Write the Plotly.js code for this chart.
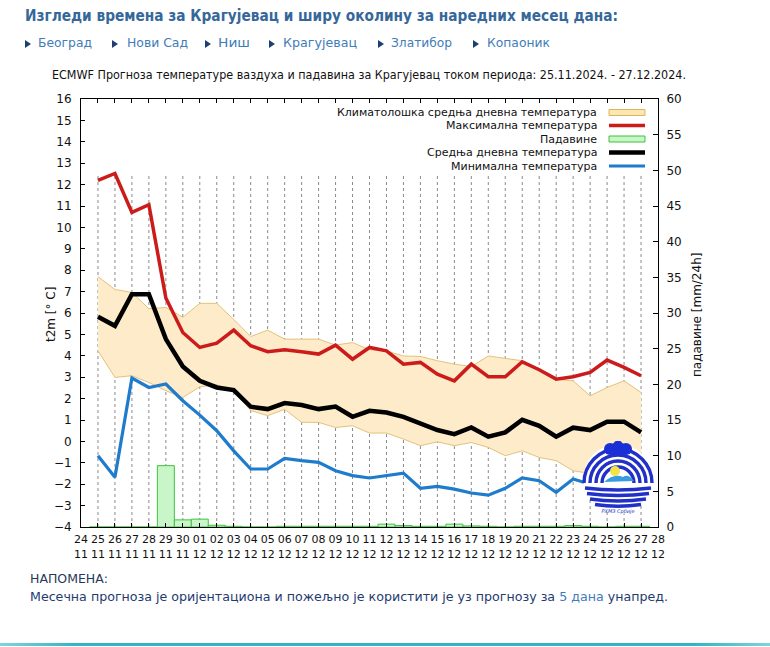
<!DOCTYPE html>
<html>
<head>
<meta charset="utf-8">
<script src="https://cdn.plot.ly/plotly-3.0.1.min.js"></script>
<style>
  html, body { margin:0; padding:0; background:#fff; }
  #wrap { position:relative; width:770px; height:647px; overflow:hidden; background:#fff; }
  #chart { position:absolute; left:0; top:0; width:770px; height:647px; }
  .t { position:absolute; white-space:nowrap; line-height:18px; transform-origin:left center; z-index:5; display:inline-block; }
  .tri { position:absolute; width:0; height:0; border-left:6px solid #1d3f73; border-top:4.5px solid transparent; border-bottom:4.5px solid transparent; z-index:5; }
  #logo { position:absolute; left:581px; top:441px; z-index:4; }
  #bline { position:absolute; left:0; top:643px; width:770px; height:3px; background:linear-gradient(to right,#7fd3dc,#33b3c3 10%,#33b3c3 90%,#7fd3dc); z-index:5; }
</style>
</head>
<body>
<div id="wrap">
  <div id="chart"></div>
  <div class="t" id="hdr" style="left:25px;top:7px;font:bold 15px 'DejaVu Sans';color:#36679a">Изгледи времена за Крагујевац и ширу околину за наредних месец дана:</div>

  <div class="tri" style="left:25px;top:39.5px"></div>
  <div class="t" id="l1" style="left:38px;top:35px;font:13px 'DejaVu Sans';color:#3f7cb9">Београд</div>
  <div class="tri" style="left:112px;top:39.5px"></div>
  <div class="t" id="l2" style="left:127px;top:35px;font:13px 'DejaVu Sans';color:#3f7cb9">Нови Сад</div>
  <div class="tri" style="left:205px;top:39.5px"></div>
  <div class="t" id="l3" style="left:218px;top:35px;font:13px 'DejaVu Sans';color:#3f7cb9">Ниш</div>
  <div class="tri" style="left:269px;top:39.5px"></div>
  <div class="t" id="l4" style="left:283px;top:35px;font:13px 'DejaVu Sans';color:#3f7cb9">Крагујевац</div>
  <div class="tri" style="left:378px;top:39.5px"></div>
  <div class="t" id="l5" style="left:391px;top:35px;font:13px 'DejaVu Sans';color:#3f7cb9">Златибор</div>
  <div class="tri" style="left:473px;top:39.5px"></div>
  <div class="t" id="l6" style="left:487px;top:35px;font:13px 'DejaVu Sans';color:#3f7cb9">Копаоник</div>

  <div class="t" id="ttl" style="left:52px;top:68px;font:12px 'DejaVu Sans';color:#111">ECMWF Прогноза температуре ваздуха и падавина за Крагујевац током периода: 25.11.2024. - 27.12.2024.</div>

  <div class="t" id="n1" style="left:30px;top:571px;font:13px 'DejaVu Sans';color:#26385a">НАПОМЕНА:</div>
  <div class="t" id="n2" style="left:30px;top:589px;font:13px 'DejaVu Sans';color:#1f3b70">Месечна прогноза је оријентациона и пожељно је користити је уз прогнозу за <span style="color:#3f7cb9">5 дана</span> унапред.</div>

  <div id="bline"></div>

  <svg id="logo" width="74" height="74" viewBox="0 0 74 74">
    <circle cx="37" cy="38" r="35" fill="#ffffff"/>
    <g fill="none" stroke="#2030c8" stroke-width="3.4">
      <path d="M3 42 A34 34 0 0 1 71 42"/>
      <path d="M9 42 A28 28 0 0 1 65 42"/>
      <path d="M15 42 A22 22 0 0 1 59 42"/>
      <path d="M21 42 A16 16 0 0 1 53 42"/>
      <path d="M4 47 Q37 51 70 47"/>
      <path d="M6 52.5 Q37 56.5 68 52.5"/>
      <path d="M9 58 Q37 62 65 58"/>
      <path d="M14 63.5 Q37 67 60 63.5"/>
    </g>
    <ellipse cx="37" cy="8" rx="13" ry="6" fill="#1b2fd6"/>
    <circle cx="29" cy="8" r="6" fill="#1b2fd6"/>
    <circle cx="45" cy="8" r="6" fill="#1b2fd6"/>
    <circle cx="37" cy="4.5" r="5" fill="#1b2fd6"/>
    <circle cx="34" cy="30" r="5" fill="#f3e24a"/>
    <path d="M23 41 Q33 32 42 36 Q47 32 53 40 Z" fill="#3b9be0"/>
    <text x="37" y="72" text-anchor="middle" font-size="5" font-style="italic" fill="#2233c4" font-family="DejaVu Sans">РХМЗ Србије</text>
  </svg>
</div>

<script>
// ---- data ----
const dates = ['2024-11-25','2024-11-26','2024-11-27','2024-11-28','2024-11-29','2024-11-30',
  '2024-12-01','2024-12-02','2024-12-03','2024-12-04','2024-12-05','2024-12-06','2024-12-07',
  '2024-12-08','2024-12-09','2024-12-10','2024-12-11','2024-12-12','2024-12-13','2024-12-14',
  '2024-12-15','2024-12-16','2024-12-17','2024-12-18','2024-12-19','2024-12-20','2024-12-21',
  '2024-12-22','2024-12-23','2024-12-24','2024-12-25','2024-12-26','2024-12-27'];

const tMax = [12.2, 12.52, 10.7, 11.06, 6.7, 5.09, 4.39, 4.59, 5.2, 4.47, 4.19, 4.28, 4.19,
  4.08, 4.5, 3.84, 4.39, 4.23, 3.61, 3.69, 3.14, 2.83, 3.61, 3.02, 3.02, 3.72, 3.35,
  2.91, 3.02, 3.22, 3.8, 3.46, 3.07];

const tMean = [5.82, 5.4, 6.88, 6.88, 4.78, 3.5, 2.83, 2.52, 2.4, 1.62, 1.51, 1.79, 1.7,
  1.51, 1.63, 1.15, 1.43, 1.35, 1.15, 0.84, 0.53, 0.34, 0.65, 0.22, 0.42, 1.01, 0.73,
  0.22, 0.64, 0.53, 0.92, 0.92, 0.42];

const tMin = [-0.67, -1.68, 2.96, 2.52, 2.68, 1.9, 1.23, 0.5, -0.44, -1.29, -1.29, -0.79, -0.9,
  -0.98, -1.37, -1.6, -1.71, -1.6, -1.48, -2.19, -2.1, -2.23, -2.41, -2.51, -2.19, -1.71, -1.84,
  -2.38, -1.76, -2.0, -1.8, -1.9, -2.0];

const climUpper = [7.7, 7.1, 6.96, 6.2, 6.26, 5.8, 6.45, 6.45, 5.7, 4.9, 5.2, 4.78, 4.78,
  4.78, 4.5, 4.62, 4.28, 4.23, 3.99, 3.97, 3.77, 3.61, 3.5, 3.99, 3.88, 3.77, 3.35,
  2.91, 2.83, 2.13, 2.52, 2.83, 2.29];

const climLower = [4.23, 2.99, 3.07, 2.75, 2.37, 2.05, 2.55, 2.65, 2.3, 1.45, 1.2, 1.5, 0.89,
  0.89, 0.65, 0.73, 0.39, 0.39, 0.11, -0.2, -0.02, -0.2, -0.05, -0.28, -0.67, -0.44, -0.75,
  -0.9, -1.37, -1.5, -1.55, -1.6, -1.65];

const precip = [0, 0, 0, 0, 8.6, 1.0, 1.1, 0.25, 0.1, 0, 0, 0.1, 0.1,
  0.1, 0.1, 0.1, 0.1, 0.4, 0.2, 0.1, 0.1, 0.4, 0.15, 0.1, 0, 0.1, 0.1,
  0.1, 0.2, 0.1, 0, 0.1, 0.1];

const tickDates = ['2024-11-24','2024-11-25','2024-11-26','2024-11-27','2024-11-28','2024-11-29','2024-11-30',
  '2024-12-01','2024-12-02','2024-12-03','2024-12-04','2024-12-05','2024-12-06','2024-12-07',
  '2024-12-08','2024-12-09','2024-12-10','2024-12-11','2024-12-12','2024-12-13','2024-12-14',
  '2024-12-15','2024-12-16','2024-12-17','2024-12-18','2024-12-19','2024-12-20','2024-12-21',
  '2024-12-22','2024-12-23','2024-12-24','2024-12-25','2024-12-26','2024-12-27','2024-12-28'];
const tickDays = ['24','25','26','27','28','29','30','01','02','03','04','05','06','07','08','09','10',
  '11','12','13','14','15','16','17','18','19','20','21','22','23','24','25','26','27','28'];
const tickMonths = ['11','11','11','11','11','11','11','12','12','12','12','12','12','12','12','12','12',
  '12','12','12','12','12','12','12','12','12','12','12','12','12','12','12','12','12','12'];

const legendNames = ['Климатолошка средња дневна температура','Максимална температура','Падавине',
  'Средња дневна температура','Минимална температура'];

// ---- layout geometry (pixels) ----
const PL = 81, PR = 658, PT = 99, PB = 527;
const px2x = p => (p - PL) / (PR - PL);
const px2y = p => (PB - p) / (PB - PT);

const ticktext = tickDays.map((d, i) => d + '<br>' + tickMonths[i]);
const FONT = 'DejaVu Sans, sans-serif';

const traces = [
  { x: dates, y: climLower, type: 'scatter', mode: 'lines', line: {color: '#e3c27c', width: 1}, showlegend: false, hoverinfo: 'skip' },
  { x: dates, y: climUpper, type: 'scatter', mode: 'lines', line: {color: '#e3c27c', width: 1}, fill: 'tonexty', fillcolor: '#fdebc9', showlegend: false, hoverinfo: 'skip' },
  { x: dates, y: tMax, type: 'scatter', mode: 'lines', line: {color: '#cc1b1b', width: 3.5}, showlegend: false },
  { x: dates, y: tMean, type: 'scatter', mode: 'lines', line: {color: '#000000', width: 4.5}, showlegend: false },
  { x: dates, y: tMin, type: 'scatter', mode: 'lines', line: {color: '#1f7bcc', width: 3.2}, showlegend: false },
  { x: dates, y: precip, type: 'bar', yaxis: 'y2', width: 86400000, marker: {color: '#c9f6c9', line: {color: '#3fc23f', width: 1}}, showlegend: false }
];

// custom legend (text left of symbol)
const rowsY = [112.5, 125.5, 139, 152.5, 166];
const annotations = legendNames.map((n, i) => ({
  text: n, xref: 'paper', yref: 'paper', x: px2x(599), y: px2y(rowsY[i]),
  xanchor: 'right', yanchor: 'middle', showarrow: false, font: {family: FONT, size: 11, color: '#111'}
}));
annotations.push({ text: 't2m [° C]', xref: 'paper', yref: 'paper', x: px2x(51), y: px2y(315), textangle: -90,
  xanchor: 'center', yanchor: 'middle', showarrow: false, font: {family: FONT, size: 12, color: '#111'} });
annotations.push({ text: 'падавине [mm/24h]', xref: 'paper', yref: 'paper', x: px2x(697), y: px2y(315), textangle: -90,
  xanchor: 'center', yanchor: 'middle', showarrow: false, font: {family: FONT, size: 12, color: '#111'} });

// dotted vertical grid lines (stop below the legend block)
const gridTop = 12.45;
const shapes = tickDates.slice(1, -1).map(d => ({
  type: 'line', xref: 'x', yref: 'y', x0: d, x1: d, y0: -4, y1: gridTop,
  line: {color: '#8a8a8a', width: 1, dash: 'dot'}, layer: 'below'
}));

const sx0 = px2x(609), sx1 = px2x(645);
shapes.push(
  { type: 'rect', xref: 'paper', yref: 'paper', x0: sx0, x1: sx1, y0: px2y(rowsY[0] + 3), y1: px2y(rowsY[0] - 3), fillcolor: '#fde6b6', line: {color: '#dfb55a', width: 1} },
  { type: 'line', xref: 'paper', yref: 'paper', x0: sx0, x1: sx1, y0: px2y(rowsY[1]), y1: px2y(rowsY[1]), line: {color: '#cc1b1b', width: 3.5} },
  { type: 'rect', xref: 'paper', yref: 'paper', x0: sx0, x1: sx1, y0: px2y(rowsY[2] + 3), y1: px2y(rowsY[2] - 3), fillcolor: '#c9f6c9', line: {color: '#3fc23f', width: 1} },
  { type: 'line', xref: 'paper', yref: 'paper', x0: sx0, x1: sx1, y0: px2y(rowsY[3]), y1: px2y(rowsY[3]), line: {color: '#000', width: 4.5} },
  { type: 'line', xref: 'paper', yref: 'paper', x0: sx0, x1: sx1, y0: px2y(rowsY[4]), y1: px2y(rowsY[4]), line: {color: '#1f7bcc', width: 3.2} }
);

const layout = {
  width: 770, height: 647,
  margin: {l: PL, r: 770 - PR, t: PT, b: 647 - PB, pad: 0},
  paper_bgcolor: 'rgba(0,0,0,0)', plot_bgcolor: '#ffffff',
  font: {family: FONT, size: 11, color: '#111'},
  showlegend: false,
  bargap: 0,
  xaxis: {
    type: 'date', range: ['2024-11-24', '2024-12-28'],
    tickmode: 'array', tickvals: tickDates, ticktext: ticktext,
    ticks: 'inside', ticklen: 4, tickcolor: '#000', tickangle: 0,
    showline: true, linecolor: '#000', linewidth: 1, mirror: 'ticks',
    showgrid: false, zeroline: false, tickfont: {family: FONT, size: 11, color: '#111'}, ticklabelstandoff: 2
  },
  yaxis: {
    range: [-4, 16], dtick: 1, tick0: 0,
    ticks: 'inside', ticklen: 4, tickcolor: '#000',
    showline: true, linecolor: '#000', linewidth: 1, mirror: true,
    showgrid: false, zeroline: false, tickfont: {family: FONT, size: 12, color: '#111'}, ticklabelstandoff: 6
  },
  yaxis2: {
    overlaying: 'y', side: 'right', range: [0, 60], dtick: 5, tick0: 0,
    ticks: 'inside', ticklen: 5, tickcolor: '#000',
    showline: true, linecolor: '#000', linewidth: 1,
    showgrid: false, zeroline: false, tickfont: {family: FONT, size: 12, color: '#111'}, ticklabelstandoff: 5
  },
  shapes: shapes,
  annotations: annotations
};

Plotly.newPlot('chart', traces, layout, {staticPlot: true, displayModeBar: false});

// fit html texts to measured widths
function fit(id, w) {
  const el = document.getElementById(id);
  const r = el.getBoundingClientRect().width;
  if (r > 0) el.style.transform = 'scaleX(' + (w / r) + ')';
}
fit('hdr', 593);
fit('l1', 54); fit('l2', 61); fit('l3', 32); fit('l4', 74); fit('l5', 61); fit('l6', 63);
fit('ttl', 634);
fit('n1', 78); fit('n2', 638);
</script>
</body>
</html>
